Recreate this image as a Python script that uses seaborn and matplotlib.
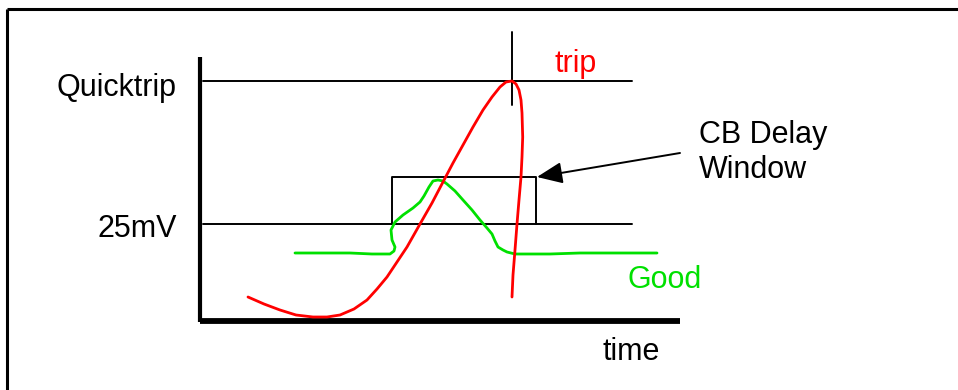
import matplotlib
matplotlib.use("Agg")
import matplotlib.pyplot as plt
import seaborn as sns
import pandas as pd

sns.set_theme(style="white")
plt.rcParams['font.family'] = ['Liberation Sans', 'DejaVu Sans']

# ---- data (diagram coordinates, pixel space, y downwards) ----
trip_x = [248, 264, 280, 296, 313, 327, 340, 354, 367, 377, 387, 397, 407, 420, 432, 443,
          453, 463, 473, 483, 492, 500, 506, 512, 516, 519, 521, 522, 522.7, 522, 521, 519,
          517, 515, 513, 512]
trip_y = [297, 304, 310, 315, 317, 317, 315, 309, 300, 289, 277, 262, 247, 224, 203, 182,
          163, 145, 127, 110, 97, 87, 82, 81, 84, 90, 100, 113, 137, 157, 177, 200,
          224, 250, 275, 297]

good_x = [295, 350, 372, 390, 394, 395, 392, 391, 395, 403, 413, 420, 424, 429, 433, 438,
          443, 447, 455, 463, 472, 480, 487, 492, 495, 498, 503, 507, 515, 523, 550, 580,
          620, 657]
good_y = [253, 253, 254, 254, 251, 247, 240, 230, 222, 215, 208, 202, 196, 187, 181, 180,
          181, 184, 191, 200, 210, 220, 228, 234, 241, 247, 250, 252, 254, 254, 254, 253,
          253, 253]

level_labels = ["Quicktrip", "25mV"]
level_y = [81, 224]
level_x0, level_x1 = 203, 632

window_x = [392, 536]
window_y = [177, 224]

trip_df = pd.DataFrame({"x": trip_x, "y": trip_y})
good_df = pd.DataFrame({"x": good_x, "y": good_y})

fig = plt.figure(figsize=(9.58, 3.90), dpi=100)
ax = fig.add_axes([0, 0, 1, 1])

# outer frame (top & left)
ax.plot([7.5, 958], [8.5, 8.5], color="black", lw=2.2, solid_capstyle="butt")
ax.plot([7.5, 7.5], [8.5, 390], color="black", lw=2.2, solid_capstyle="butt")

# axes
ax.plot([200, 200], [57, 322], color="black", lw=3, solid_capstyle="butt")
ax.plot([200, 680], [321, 321], color="black", lw=4.2, solid_capstyle="butt")

# threshold lines and labels
label_baseline = [96, 237]
for lab, yy, yb in zip(level_labels, level_y, label_baseline):
    ax.plot([level_x0, level_x1], [yy, yy], color="black", lw=1.4)
    ax.text(177, yb, lab, ha="right", va="baseline", fontsize=22, color="black")

# CB delay window box
ax.plot([window_x[0], window_x[0], window_x[1], window_x[1]],
        [window_y[1], window_y[0], window_y[0], window_y[1]], color="black", lw=1.4)

# trip marker
ax.plot([512, 512], [32, 105], color="black", lw=1.4)

# curves
sns.lineplot(data=good_df, x="x", y="y", sort=False, estimator=None,
             color="#00e000", lw=2.0, ax=ax)
sns.lineplot(data=trip_df, x="x", y="y", sort=False, estimator=None,
             color="#ff0000", lw=2.0, ax=ax)
ax.set_xlabel("")
ax.set_ylabel("")
ax.set_xlim(0, 958)
ax.set_ylim(390, 0)
ax.axis("off")

# arrow
ax.annotate("", xy=(537, 177), xytext=(680, 153),
            arrowprops=dict(arrowstyle="-|>,head_length=1.3,head_width=0.55",
                            color="black", lw=1.4, shrinkA=0, shrinkB=0))

# texts
ax.text(555, 72, "trip", ha="left", va="baseline", fontsize=22, color="#ff0000")
ax.text(699, 143, "CB Delay", ha="left", va="baseline", fontsize=22, color="black")
ax.text(699, 178, "Window", ha="left", va="baseline", fontsize=22, color="black")
ax.text(628, 288, "Good", ha="left", va="baseline", fontsize=22, color="#00e000")
ax.text(603, 360, "time", ha="left", va="baseline", fontsize=22, color="black")

fig.savefig("out.png", dpi=100)
